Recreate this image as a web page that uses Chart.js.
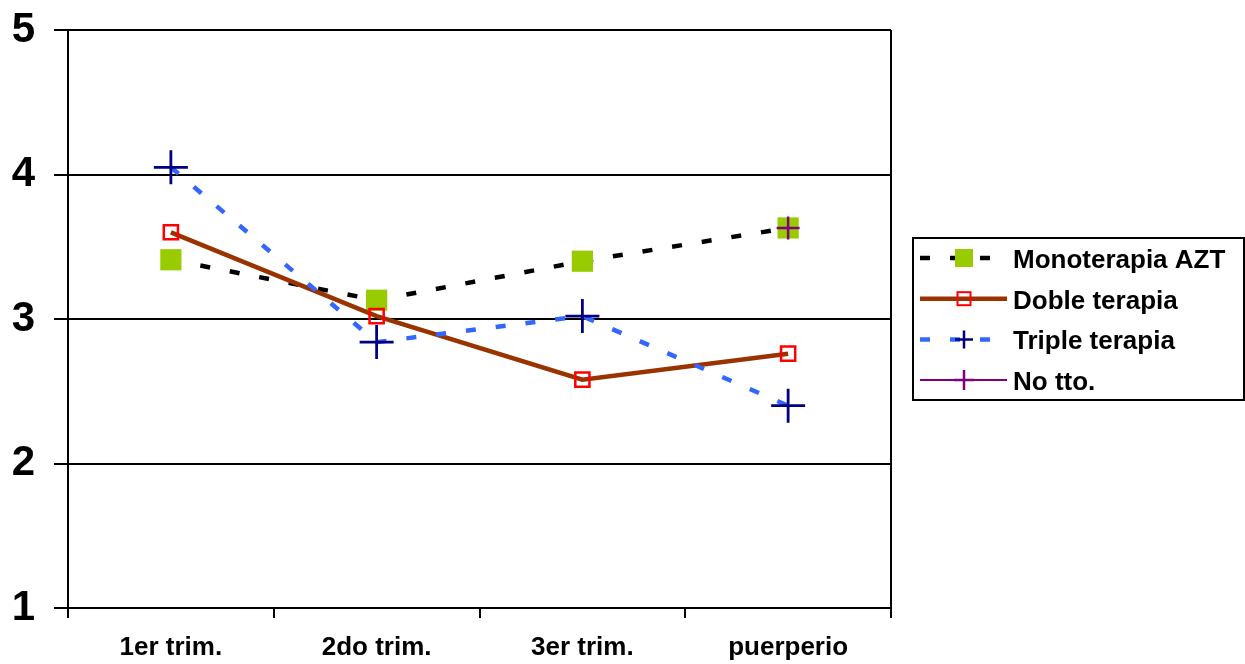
<!DOCTYPE html>
<html>
<head>
<meta charset="utf-8">
<title>Terapias por trimestre</title>
<script src="https://cdn.jsdelivr.net/npm/chart.js"></script>
<style>
  html, body { margin: 0; padding: 0; background: #ffffff; }
  #wrap { width: 1245px; height: 664px; position: relative; }
</style>
</head>
<body>
<div id="wrap"><canvas id="terapiaChart" width="1245" height="664"></canvas></div>
<script>
const categories = ["1er trim.", "2do trim.", "3er trim.", "puerperio"];
const monoterapiaAZT = [3.41, 3.13, 3.40, 3.63];
const dobleTerapia = [3.60, 3.02, 2.58, 2.76];
const tripleTerapia = [4.05, 2.84, 3.02, 2.40];
const noTto = [null, null, null, 3.63];
const yMin = 1;
const yMax = 5;

const FONT = "Arial, 'Liberation Sans', sans-serif";

// legend rows: label, line colour, dash, line width, marker
const legendItems = [
  { text: "Monoterapia AZT", color: "#000000", dash: [10, 20], width: 4.5,
    marker: { type: "square", fill: "#99CC00", stroke: null, r: 9 } },
  { text: "Doble terapia", color: "#993300", dash: [], width: 4.5,
    marker: { type: "square", fill: null, stroke: "#FF0000", r: 6.5 } },
  { text: "Triple terapia", color: "#3366FF", dash: [10, 20], width: 4.5,
    marker: { type: "cross", stroke: "#000080", r: 9 } },
  { text: "No tto.", color: "#800080", dash: [], width: 2,
    marker: { type: "cross", stroke: "#800080", r: 10 } },
];

const frameAndLegend = {
  id: "frameAndLegend",
  beforeDatasetsDraw(chart) {
    const ctx = chart.ctx;
    const a = chart.chartArea;
    ctx.save();
    ctx.strokeStyle = "#000";
    ctx.lineWidth = 2;
    ctx.beginPath();
    ctx.moveTo(a.right, a.top);
    ctx.lineTo(a.right, a.bottom);
    ctx.stroke();
    ctx.restore();
  },
  afterDraw(chart) {
    const ctx = chart.ctx;
    const box = { x: 913, y: 238, w: 331, h: 162 };
    ctx.save();
    ctx.fillStyle = "#fff";
    ctx.fillRect(box.x, box.y, box.w, box.h);
    ctx.strokeStyle = "#000";
    ctx.lineWidth = 2;
    ctx.strokeRect(box.x, box.y, box.w, box.h);

    legendItems.forEach((item, i) => {
      const cy = 258 + i * 40.7;
      // line sample
      ctx.save();
      ctx.strokeStyle = item.color;
      ctx.lineWidth = item.width;
      ctx.setLineDash(item.dash);
      ctx.beginPath();
      ctx.moveTo(920, cy);
      ctx.lineTo(1007, cy);
      ctx.stroke();
      ctx.restore();

      // marker
      const m = item.marker;
      const mx = 964;
      ctx.save();
      if (m.type === "square") {
        if (m.fill) {
          ctx.fillStyle = m.fill;
          ctx.fillRect(mx - m.r, cy - m.r, m.r * 2, m.r * 2);
        }
        if (m.stroke) {
          ctx.strokeStyle = m.stroke;
          ctx.lineWidth = 2;
          ctx.strokeRect(mx - m.r, cy - m.r, m.r * 2, m.r * 2);
        }
      } else {
        ctx.strokeStyle = m.stroke;
        ctx.lineWidth = 2.5;
        ctx.beginPath();
        ctx.moveTo(mx - m.r, cy);
        ctx.lineTo(mx + m.r, cy);
        ctx.moveTo(mx, cy - m.r);
        ctx.lineTo(mx, cy + m.r);
        ctx.stroke();
      }
      ctx.restore();

      ctx.fillStyle = "#000";
      ctx.font = "bold 26px " + FONT;
      ctx.textAlign = "left";
      ctx.textBaseline = "alphabetic";
      ctx.fillText(item.text, 1013, cy + 10);
    });
    ctx.restore();
  },
};

const ctx = document.getElementById("terapiaChart").getContext("2d");
new Chart(ctx, {
  type: "line",
  data: {
    labels: categories,
    datasets: [
      {
        label: "Monoterapia AZT",
        data: monoterapiaAZT,
        borderColor: "#000000",
        borderWidth: 4.5,
        borderDash: [10, 20],
        pointStyle: "rect",
        pointRadius: 15,
        pointBackgroundColor: "#99CC00",
        pointBorderColor: "#99CC00",
        pointBorderWidth: 0,
        tension: 0,
        order: 4,
      },
      {
        label: "Doble terapia",
        data: dobleTerapia,
        borderColor: "#993300",
        borderWidth: 4.5,
        pointStyle: "rect",
        pointRadius: 10,
        pointBackgroundColor: "rgba(0,0,0,0)",
        pointBorderColor: "#FF0000",
        pointBorderWidth: 2.5,
        tension: 0,
        order: 3,
      },
      {
        label: "Triple terapia",
        data: tripleTerapia,
        borderColor: "#3366FF",
        borderWidth: 4.5,
        borderDash: [10, 20],
        pointStyle: "cross",
        pointRadius: 17,
        pointBorderColor: "#000080",
        pointBorderWidth: 2.8,
        tension: 0,
        order: 2,
      },
      {
        label: "No tto.",
        data: noTto,
        borderColor: "#800080",
        borderWidth: 2,
        pointStyle: "cross",
        pointRadius: 11.5,
        pointBorderColor: "#800080",
        pointBorderWidth: 2.5,
        tension: 0,
        order: 1,
      },
    ],
  },
  options: {
    responsive: false,
    animation: false,
    layout: { padding: { top: 30, right: 354, left: 0, bottom: 0 } },
    plugins: {
      legend: { display: false },
      tooltip: { enabled: false },
    },
    scales: {
      x: {
        offset: true,
        grid: {
          offset: true,
          drawOnChartArea: false,
          color: "#000",
          lineWidth: 2,
          tickLength: 10,
        },
        border: { display: true, color: "#000", width: 2 },
        ticks: {
          color: "#000",
          padding: 14,
          maxRotation: 0,
          font: { family: FONT, size: 26, weight: "bold" },
        },
        afterFit(scale) { scale.height = 56; },
      },
      y: {
        min: yMin,
        max: yMax,
        grid: {
          color: "#000",
          lineWidth: 2,
          tickLength: 14,
        },
        border: { display: true, color: "#000", width: 2 },
        ticks: {
          stepSize: 1,
          color: "#000",
          padding: 19,
          font: { family: FONT, size: 42, weight: "bold" },
        },
        afterFit(scale) {
          scale.width = 68;
          // labels may overhang; the layout padding already leaves room
          scale.paddingTop = 0;
          scale.paddingBottom = 0;
        },
      },
    },
  },
  plugins: [frameAndLegend],
});
</script>
</body>
</html>
